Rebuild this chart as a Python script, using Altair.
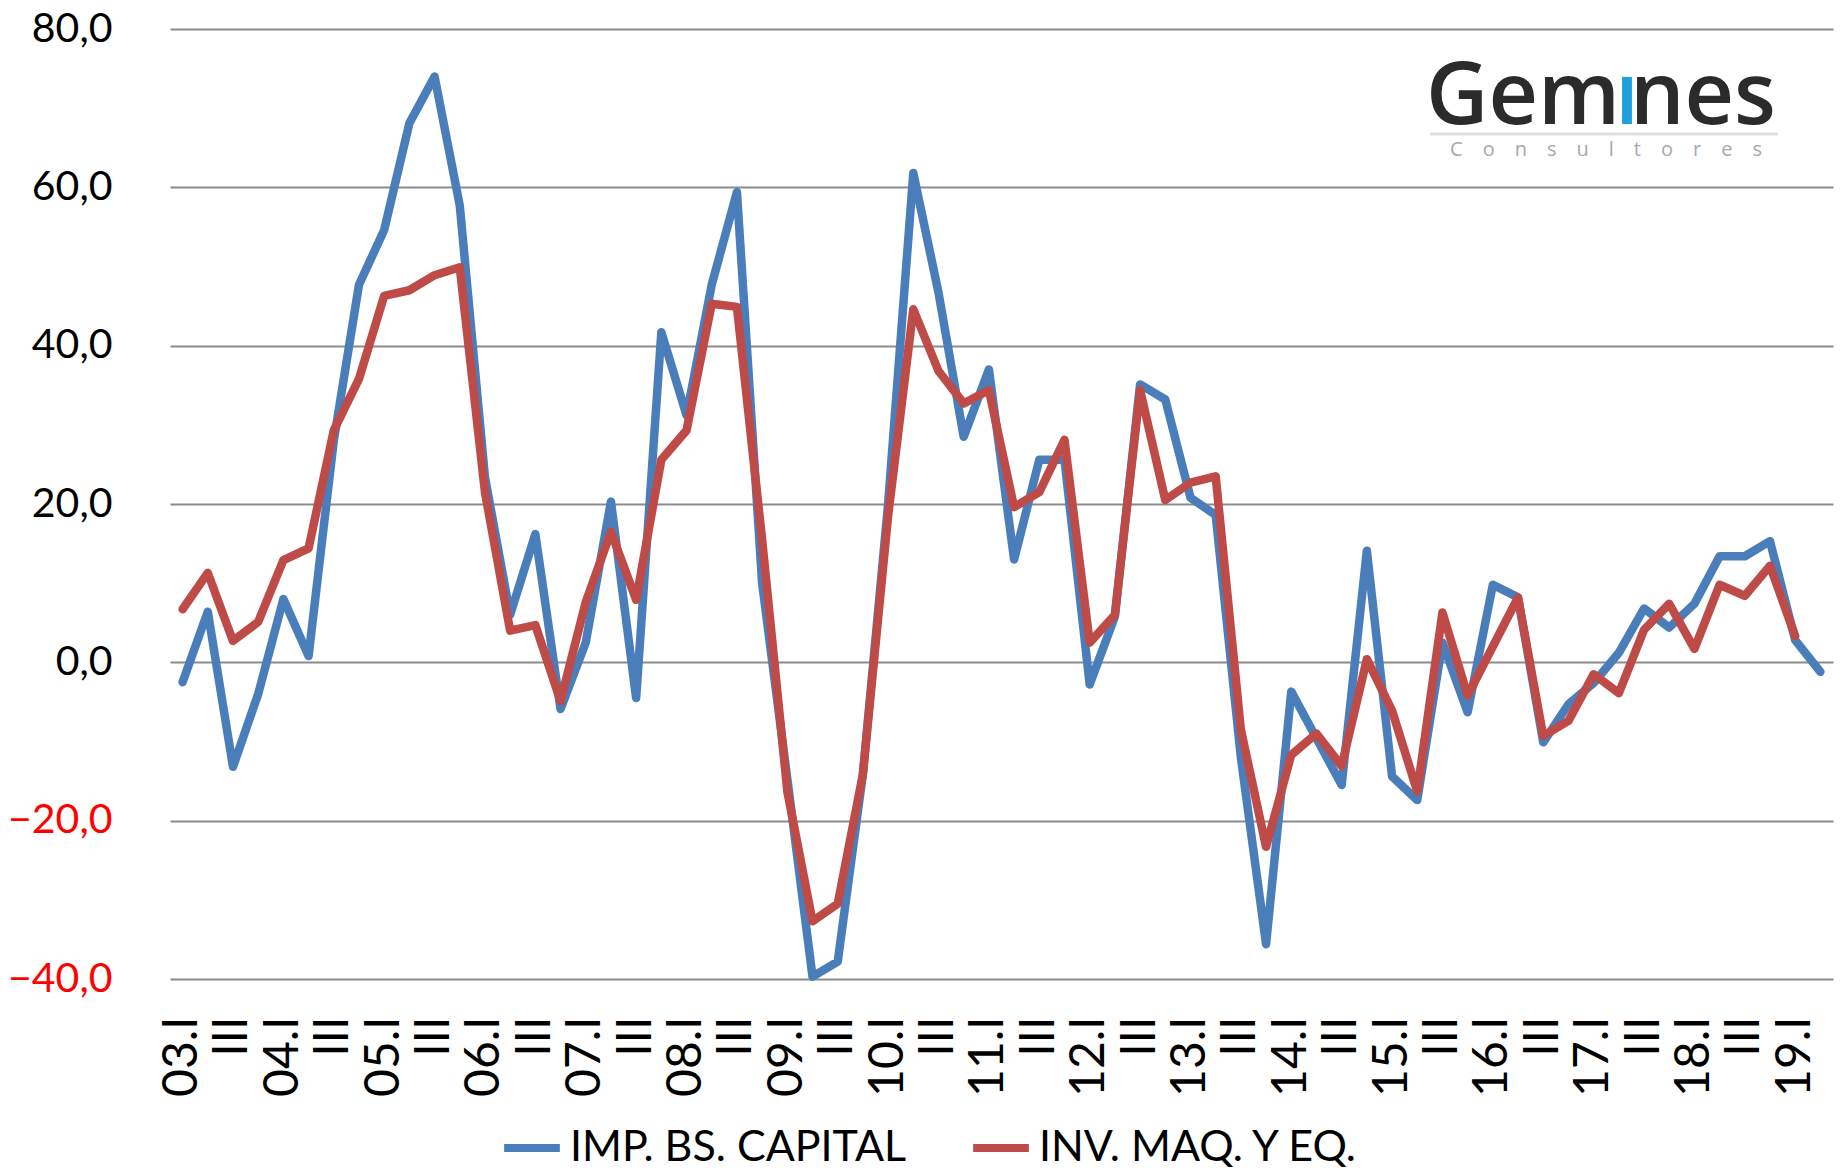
import altair as alt
import pandas as pd

# ---------------- data ----------------
quarters = []
for yy in range(3, 20):
    for q in ["I", "II", "III", "IV"]:
        quarters.append(f"{yy:02d}.{q}")
quarters = quarters[:66]  # 03.I .. 19.II

imp_bs_capital = [
    -2.5, 6.4, -13.2, -4.0, 8.0, 0.8, 28.0, 47.7,
    54.6, 68.1, 74.0, 57.7, 23.4, 6.0, 16.2, -5.9,
    2.5, 20.3, -4.5, 41.7, 31.2, 47.7, 59.4, 10.0,
    -14.7, -39.7, -37.8, -14.1, 20.0, 61.8, 46.7, 28.5,
    37.0, 13.0, 25.6, 25.6, -2.8, 5.8, 35.1, 33.2,
    20.8, 18.6, -12.0, -35.6, -3.7, -9.6, -15.5, 14.1,
    -14.4, -17.4, 2.5, -6.3, 9.8, 8.2, -10.1, -5.3,
    -2.6, 1.2, 6.8, 4.4, 7.4, 13.4, 13.4, 15.3,
    2.8, -1.2,
]
inv_maq_eq = [
    6.7, 11.3, 2.7, 5.1, 12.9, 14.4, 29.3, 35.8,
    46.3, 47.0, 48.9, 49.9, 21.5, 4.0, 4.7, -4.9,
    7.6, 16.5, 7.9, 25.6, 29.3, 45.3, 44.9, 15.5,
    -16.3, -32.7, -30.5, -14.1, 18.5, 44.6, 36.8, 32.7,
    34.4, 19.6, 21.5, 28.1, 2.5, 6.0, 34.4, 20.5,
    22.7, 23.5, -8.5, -23.3, -11.7, -9.0, -13.1, 0.4,
    -6.1, -16.3, 6.3, -4.2, 2.0, 8.2, -9.3, -7.4,
    -1.5, -3.9, 4.1, 7.4, 1.7, 9.8, 8.4, 12.2,
    3.3,
]
series_names = ["IMP. BS. CAPITAL", "INV. MAQ. Y EQ."]
series_colors = ["#4a7ebb", "#be4b48"]
y_ticks = [-40, -20, 0, 20, 40, 60, 80]

logo_main = ["Gem", "ı", "nes"]
logo_sub = ["C\u2003o\u2003n\u2003s\u2003u\u2003l\u2003t\u2003o\u2003r\u2003e\u2003s"]

rows = []
for q, v in zip(quarters, imp_bs_capital):
    rows.append({"q": q, "v": v, "s": series_names[0]})
for q, v in zip(quarters, inv_maq_eq):
    rows.append({"q": q, "v": v, "s": series_names[1]})
df = pd.DataFrame(rows)

FONT = "Lato"
W, H = 1663, 950

x_label_expr = (
    "indexof(datum.value, '.III') >= 0 ? 'III' : "
    "((indexof(datum.value, '.IV') >= 0 || indexof(datum.value, '.II') >= 0) ? '' : datum.value)"
)

lines = alt.Chart(df).mark_line(
    strokeWidth=8.5, strokeJoin="round", strokeCap="round"
).encode(
    x=alt.X(
        "q:O",
        sort=quarters,
        title=None,
        axis=alt.Axis(
            labelAngle=270,
            labelFont=FONT,
            labelFontSize=48,
            labelColor="black",
            labelPadding=37,
            labelExpr=x_label_expr,
            labelOverlap=False,
            domain=False,
            ticks=False,
            grid=False,
        ),
    ),
    y=alt.Y(
        "v:Q",
        title=None,
        scale=alt.Scale(domain=[-40, 80], nice=False, zero=False),
        axis=alt.Axis(
            values=y_ticks,
            labelExpr="replace(format(datum.value, '.1f'), '.', ',')",
            labelColor=alt.condition("datum.value < 0", alt.value("#ff0000"), alt.value("#000000")),
            labelFont=FONT,
            labelFontSize=41,
            labelPadding=58,
            domain=False,
            ticks=False,
            grid=True,
            gridColor="#8c8c8c",
            gridWidth=2,
        ),
    ),
    color=alt.Color(
        "s:N",
        scale=alt.Scale(domain=series_names, range=series_colors),
        legend=alt.Legend(
            title=None,
            orient="none",
            legendX=330,
            legendY=1087,
            direction="horizontal",
            columns=2,
            symbolType="stroke",
            symbolSize=3100,
            symbolStrokeWidth=8,
            labelFont=FONT,
            labelFontSize=43,
            labelColor="black",
            columnPadding=50,
            labelOffset=6,
            labelLimit=600,
        ),
    ),
)

logo_font = "Open Sans"
gem = alt.Chart(pd.DataFrame({"t": [logo_main[0]]})).mark_text(
    font=logo_font, fontSize=86, fontWeight=600, color="#2b2b2b", align="left", baseline="alphabetic"
).encode(text="t:N", x=alt.value(1256), y=alt.value(95))

gem_i = alt.Chart(pd.DataFrame({"t": [logo_main[1]]})).mark_text(
    font=logo_font, fontSize=86, fontWeight=600, color="#1ea0dc", align="center", baseline="alphabetic"
).encode(text="t:N", x=alt.value(1457), y=alt.value(95))

gem_nes = alt.Chart(pd.DataFrame({"t": [logo_main[2]]})).mark_text(
    font=logo_font, fontSize=86, fontWeight=600, color="#2b2b2b", align="right", baseline="alphabetic"
).encode(text="t:N", x=alt.value(1606), y=alt.value(95))

logo_rule = alt.Chart(pd.DataFrame({"t": [0]})).mark_rule(
    color="#e0e0e0", strokeWidth=3
).encode(x=alt.value(1260), x2=alt.value(1608), y=alt.value(105))

cons = alt.Chart(pd.DataFrame({"t": logo_sub})).mark_text(
    font=logo_font, fontSize=20, color="#a8a8a8", align="center", baseline="middle"
).encode(text="t:N", x=alt.value(1436), y=alt.value(121))

chart = alt.layer(lines, logo_rule, gem, gem_i, gem_nes, cons).properties(
    width=W,
    height=H,
    autosize=alt.AutoSizeParams(type="none"),
    padding={"left": 162, "top": 21, "right": 4, "bottom": 191},
    background="white",
).configure_view(stroke=None)

chart.save("out.html", embed_options={"renderer": "svg", "actions": False})
